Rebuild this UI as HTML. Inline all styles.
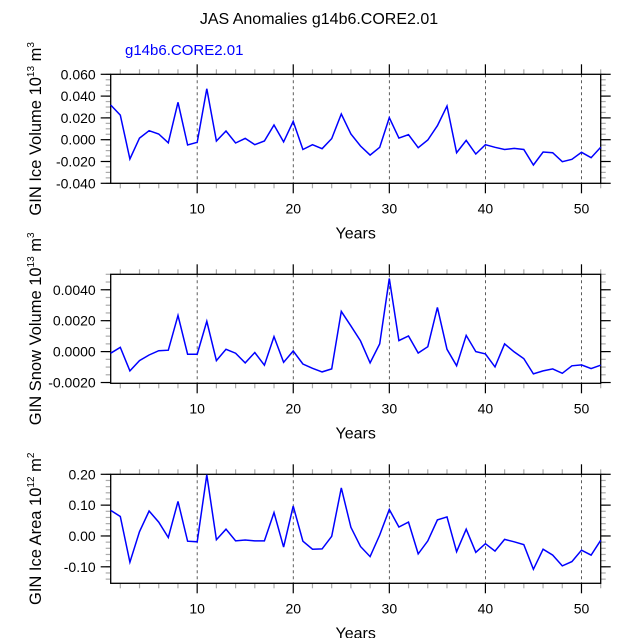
<!DOCTYPE html>
<html><head><meta charset="utf-8"><style>
body{margin:0;background:#fff;}
svg{display:block;font-family:"Liberation Sans",Arial,sans-serif;}
</style></head><body>
<svg id="c" width="638" height="638"></svg>
<script>
const years = Array.from({length:52},(_,i)=>i+1);
const iceVolume = [0.0318,0.0226,-0.0177,0.0015,0.0083,0.0052,-0.0028,0.0343,-0.0049,-0.0024,0.0468,-0.0012,0.008,-0.003,0.0012,-0.0046,-0.0012,0.0135,-0.002,0.0168,-0.009,-0.0046,-0.0083,0.001,0.0236,0.0052,-0.0058,-0.0141,-0.007,0.0202,0.0015,0.0046,-0.0073,-0.0003,0.0128,0.0309,-0.0119,-0.0006,-0.0131,-0.0046,-0.007,-0.009,-0.008,-0.009,-0.0232,-0.0113,-0.0119,-0.0202,-0.018,-0.0116,-0.0165,-0.007];
const snowVolume = [-0.0001,0.00028,-0.00125,-0.00058,-0.00022,0.00006,0.00009,0.00234,-0.00017,-0.00017,0.00196,-0.00058,0.00015,-0.0001,-0.00073,-0.00006,-0.00088,0.00097,-0.00069,0.00004,-0.0008,-0.00108,-0.00131,-0.00112,0.0026,0.00166,0.00069,-0.00073,0.0005,0.00473,0.00071,0.00101,-0.00009,0.00032,0.00286,0.00015,-0.00092,0.00105,0,-0.00015,-0.00099,0.0005,-0.00002,-0.00045,-0.00144,-0.00125,-0.00112,-0.0014,-0.00092,-0.00086,-0.0011,-0.00088];
const iceArea = [0.083,0.063,-0.085,0.014,0.081,0.045,-0.005,0.112,-0.017,-0.019,0.198,-0.012,0.022,-0.016,-0.013,-0.016,-0.016,0.076,-0.036,0.097,-0.017,-0.043,-0.042,-0.001,0.156,0.028,-0.034,-0.067,0.003,0.086,0.029,0.045,-0.058,-0.016,0.052,0.062,-0.051,0.022,-0.053,-0.025,-0.049,-0.011,-0.019,-0.028,-0.108,-0.043,-0.062,-0.097,-0.083,-0.046,-0.062,-0.014];
const xTicks = [10,20,30,40,50];
const iceVolTicks = ["0.060","0.040","0.020","0.000","-0.020","-0.040"];
const snowTicks = ["0.0040","0.0020","0.0000","-0.0020"];
const areaTicks = ["0.20","0.10","0.00","-0.10"];

const svg=document.getElementById('c');
const NS='http://www.w3.org/2000/svg';
function mk(tag,attrs,parent){const e=document.createElementNS(NS,tag);for(const k in attrs)e.setAttribute(k,attrs[k]);(parent||svg).appendChild(e);return e;}

const L=110.7,R=600.7,X0=1,X1=52;
const sx=v=>L+(v-X0)/(X1-X0)*(R-L);

const t=mk('text',{x:319,y:24,'text-anchor':'middle','font-size':16,fill:'#000'});

t.textContent='JAS Anomalies g14b6.CORE2.01';
const st=mk('text',{x:125,y:55,'font-size':15,fill:'#0000ff'});

st.textContent='g14b6.CORE2.01';

function panel(name,top,bot,ymin,ymax,data,ticks,minorStep,title,exp,unitExp){
  const g=mk('g',{});
  
  
  const sy=v=>bot-(v-ymin)/(ymax-ymin)*(bot-top);
  xTicks.forEach(x=>{const l=mk('line',{x1:sx(x),x2:sx(x),y1:top,y2:bot,stroke:'#333','stroke-width':0.8,'stroke-dasharray':'3,3'},g);
    });
  for(let x=2;x<=52;x+=2){ if(x%10===0)continue;
    mk('line',{x1:sx(x),x2:sx(x),y1:top-5,y2:top,stroke:'#aaa','stroke-width':1.2},g);
    mk('line',{x1:sx(x),x2:sx(x),y1:bot,y2:bot+5,stroke:'#aaa','stroke-width':1.2},g);}
  xTicks.forEach(x=>{
    mk('line',{x1:sx(x),x2:sx(x),y1:top-10,y2:top,stroke:'#000','stroke-width':1.2},g);
    mk('line',{x1:sx(x),x2:sx(x),y1:bot,y2:bot+10,stroke:'#000','stroke-width':1.2},g);
    const tl=mk('text',{x:sx(x),y:bot+30,'text-anchor':'middle','font-size':14},g);
    
    tl.textContent=x;});
  for(let k=Math.ceil(ymin/minorStep-1e-6);k*minorStep<=ymax+1e-9;k++){
    const y=sy(k*minorStep);
    mk('line',{x1:L-5,x2:L,y1:y,y2:y,stroke:'#aaa','stroke-width':1.2},g);
    mk('line',{x1:R,x2:R+5,y1:y,y2:y,stroke:'#aaa','stroke-width':1.2},g);}
  ticks.forEach(s=>{const v=parseFloat(s),y=sy(v);
    mk('line',{x1:L-10,x2:L,y1:y,y2:y,stroke:'#000','stroke-width':1.2},g);
    mk('line',{x1:R,x2:R+10,y1:y,y2:y,stroke:'#000','stroke-width':1.2},g);
    const tl=mk('text',{x:L-15,y:y+5,'text-anchor':'end','font-size':14},g);
    
    tl.textContent=s;});
  const fr=mk('rect',{x:L,y:top,width:R-L,height:bot-top,fill:'none',stroke:'#000','stroke-width':1.3},g);
  
  const pts=data.map((v,i)=>sx(years[i]).toFixed(1)+','+sy(v).toFixed(1)).join(' ');
  const pl=mk('polyline',{points:pts,fill:'none',stroke:'#0000ff','stroke-width':1.5},g);
  
  const xt=mk('text',{x:(L+R)/2,y:bot+55,'text-anchor':'middle','font-size':16},g);
  
  xt.textContent='Years';
  const cy=(top+bot)/2;
  const yt=mk('text',{x:0,y:0,'text-anchor':'middle','font-size':16.5,transform:`translate(41,${cy}) rotate(-90)`},g);
  
  yt.innerHTML=title+' 10<tspan dy="-7" font-size="10">'+exp+'</tspan><tspan dy="7"> m</tspan><tspan dy="-7" font-size="10">'+unitExp+'</tspan>';
}
panel('ice-volume',74.3,183.3,-0.04,0.06,iceVolume,iceVolTicks,0.005,'GIN Ice Volume','13','3');
panel('snow-volume',274.3,383.3,-0.00205,0.005,snowVolume,snowTicks,0.0005,'GIN Snow Volume','13','3');
panel('ice-area',474.3,583.3,-0.1535,0.2,iceArea,areaTicks,0.02,'GIN Ice Area','12','2');
</script>
</body></html>
